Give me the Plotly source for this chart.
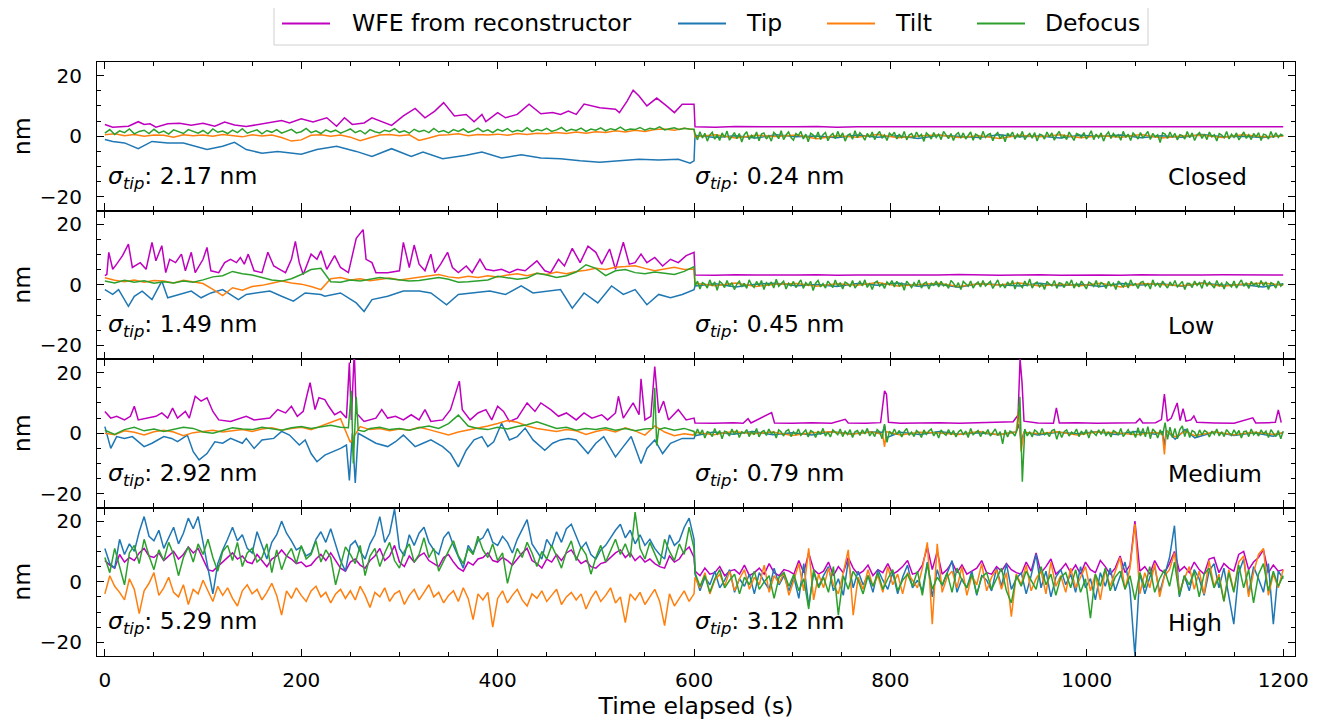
import numpy as np
import plotly.graph_objects as go
from plotly.subplots import make_subplots

# ---------------- labels / metadata ----------------
SERIES = ["WFE from reconstructor", "Tip", "Tilt", "Defocus"]
COLORS = ["#bf00bf", "#1f77b4", "#ff7f0e", "#2ca02c"]
PANELS = ["Closed", "Low", "Medium", "High"]
SIGMA_OPEN = [2.17, 1.49, 2.92, 5.29]
SIGMA_CLOSED = [0.24, 0.45, 0.79, 3.12]
X_TICKS = [0, 200, 400, 600, 800, 1000, 1200]
Y_TICKS = [-20, 0, 20]
Y_TICKTEXT = ["\u221220", "0", "20"]

# ---------------- Panel 1 : Closed ----------------
P1_WFE_OPEN = [(0, 3.9), (8, 3.0), (24, 3.3), (34, 4.8), (40, 3.9), (46, 4.1), (52, 3.0), (64, 4.1), (76, 4.3),
               (88, 3.6), (100, 4.3), (112, 3.3), (122, 4.7), (132, 3.7), (144, 3.2), (156, 3.9), (168, 4.4),
               (180, 5.2), (188, 4.4), (200, 5.8), (212, 4.7), (226, 6.1), (236, 3.3), (244, 6.1), (252, 3.9),
               (264, 4.4), (272, 6.1), (280, 5.0), (292, 3.6), (304, 6.7), (316, 9.2), (326, 6.1), (336, 8.3),
               (345, 11.1), (356, 6.7), (368, 7.2), (376, 4.8), (384, 7.2), (388, 4.8), (400, 7.8), (408, 6.1),
               (420, 7.2), (432, 10.6), (444, 7.4), (456, 7.8), (464, 7.2), (472, 8.3), (480, 7.2), (488, 10.6),
               (504, 9.4), (520, 8.9), (524, 7.8), (532, 11.7), (538, 15.2), (544, 13.3), (552, 10.0), (562, 12.6),
               (572, 10.0), (580, 7.8), (588, 10.6), (600, 10.6)]
P1_TIP_OPEN = [(0, -1.1), (8, -1.7), (20, -2.2), (34, -4.1), (48, -1.7), (64, -2.2), (80, -2.2), (88, -3.0),
               (104, -4.4), (120, -3.3), (132, -2.0), (144, -4.4), (160, -5.6), (176, -5.0), (200, -5.9),
               (216, -4.4), (236, -3.3), (256, -5.0), (272, -6.7), (292, -4.1), (312, -6.7), (324, -5.2),
               (344, -7.4), (368, -6.3), (384, -5.2), (404, -7.2), (424, -6.1), (444, -7.2), (464, -7.4),
               (484, -8.1), (504, -8.6), (524, -8.1), (544, -7.6), (564, -7.8), (584, -7.6), (596, -8.9), (600, -8.1)]
P1_TILT_OPEN = [0.5, 0.8, 0.2, 0.6, 0.0, 0.4, 0.3, -0.3, 0.5, 0.2,
                0.4, 0.0, 0.6, 0.3, -0.2, 0.5, 0.1, 0.4, -0.4, -1.6,
                -1.2, 0.3, 0.5, 0.0, 0.4, -0.3, -1.5, -0.5, 0.4, 0.6,
                0.2, 0.5, -1.4, -0.6, 0.3, 0.5, 0.8, 0.2, 0.6, 0.4,
                0.7, 0.3, 0.9, 0.6, 1.0, 0.8, 1.2, 0.9, 1.4, 1.0,
                1.5, 1.2, 1.8, 1.4, 2.0, 1.6, 2.2, 2.4, 2.0, 2.6, 2.2]
P1_DEF_OPEN = [1.0, 2.2, 0.6, 1.8, 1.2, 2.4, 0.8, 1.6, 2.0, 0.9,
               2.3, 1.1, 1.7, 0.7, 2.1, 1.4, 0.9, 2.2, 1.5, 1.0,
               1.9, 0.8, 2.4, 1.3, 1.7, 0.9, 2.0, 1.2, 2.5, 1.0,
               1.6, 2.1, 0.8, 1.9, 1.3, 2.2, 1.0, 1.7, 2.3, 1.1,
               1.5, 2.6, 1.2, 1.8, 0.9, 2.1, 1.4, 2.0, 1.0, 1.7,
               2.4, 1.2, 1.9, 0.8, 2.2, 1.5, 1.1, 2.0, 1.6, 2.5,
               1.3, 1.8, 1.0, 2.3, 1.5, 2.0, 1.2, 2.6, 1.4, 1.9,
               1.1, 2.2, 1.6, 2.4, 1.3, 1.8, 2.7, 1.5, 2.1, 1.2,
               2.3, 1.7, 2.5, 1.4, 2.0, 1.6, 2.8, 1.5, 2.2, 1.8,
               2.6, 1.6, 2.1, 2.9, 1.7, 2.3, 1.9, 2.7, 1.6, 2.4,
               2.0, 2.8, 1.8, 2.5, 2.1, 3.0, 1.9, 2.4, 2.2, 2.9,
               2.0, 2.6, 2.3, 3.1, 2.1, 2.5, 2.8, 2.2, 2.6, 2.4, 2.3]
P1_WFE_CL = [3.1, 3.0, 3.2, 3.1, 3.0, 3.1, 3.2, 3.0, 3.1, 3.1, 3.0, 3.2, 3.1, 3.0, 3.1,
             3.1, 3.2, 3.0, 3.1, 3.0, 3.1, 3.2, 3.1, 3.0, 3.1, 3.1, 3.0, 3.2, 3.1, 3.1]
P1_TIP_CL = [0.3, -0.4, 0.2, -0.6, 0.5, -0.2, 0.1, -0.5, 0.4, -0.3, 0.2, -0.7, 0.3, 0.0, -0.4,
             0.5, -0.2, 0.1, -0.6, 0.3, -0.1, 0.4, -0.5, 0.2, -0.3, 0.6, -0.2, 0.0, -0.4, 0.2]
P1_TILT_CL = [-0.2, 0.5, -0.6, 0.3, -0.1, 0.4, -0.8, 0.2, -0.3, 0.6, -0.5, 0.1, 0.4, -0.4, 0.2,
              -0.7, 0.3, -0.2, 0.5, -0.5, 0.2, -0.3, 0.6, -0.6, 0.1, 0.3, -0.4, 0.5, -0.2, 0.1]
P1_DEF_CL = [0.8, -1.2, 1.5, -0.6, 1.0, -1.6, 0.4, 1.3, -1.0, 0.6, -1.4, 1.1,
             -0.4, 1.7, -1.3, 0.2, 1.2, -0.8, 0.9, -1.9, 0.5, 1.5, -1.1, 0.3,
             -0.6, 1.4, -1.5, 0.7, 1.1, -0.9, 0.2, -1.6, 1.3, 0.5, -0.8, 1.8,
             -1.1, 0.4, 1.4, -0.4, -1.3, 0.9, 0.2, 1.6, -0.9, 0.7, -1.8, 1.0,
             0.4, -0.6, 1.4, -1.1, 0.5, 1.2, -1.5, 0.2, 0.9, -0.8, 1.6, -0.4,
             1.1, -1.6, 0.3, 0.8, -1.0, 1.8, -0.5, 1.2, 0.2, -1.3, 0.9, -0.4,
             1.4, -1.1, 0.6, 1.6, -0.7, 0.4, -1.4, 1.0, 0.2, 1.3, -0.9, 0.7,
             -0.6, 1.6, -1.2, 0.4, 0.9, -0.7, 1.4, -0.2, 0.6, -1.7, 1.1, 0.3,
             -0.9, 1.2, -0.4, 0.7, -1.1, 1.6, 0.2, -0.8, 0.9, -1.4, 0.5, 1.2,
             -0.6, 1.1, -0.9, 0.3, 1.4, -1.3, 0.7, 0.2, -1.1, 1.6, -0.4, 0.5,
             0.9, -1.5, 0.4, 1.2, -0.8, 0.5, -1.8, 1.0, 0.0, 1.4, -0.9, 0.7,
             -0.4, 1.6, -1.1, 0.2, 0.9, -0.6, 1.2, -1.6, 0.7, 0.4, -0.9, 1.4,
             -0.2, 1.1, -1.3, 0.5, 1.6, -0.7, 0.3, -1.1, 1.4, 0.0, -1.4, 0.9,
             0.5, -0.4, 1.2, -0.9, 0.2, 1.8, -1.1, 0.7, -0.5, 1.1, -1.6, 0.4,
             1.4, -0.7, 0.9, -0.2, 0.5, -1.3, 1.6, -0.4, 0.7, -1.4, 1.1, 0.2,
             -0.9, 1.2, -0.5, 0.4, 1.6, -1.1, 0.9, -0.2, 0.5, -2.1, 1.1, 0.7,
             -0.7, 1.4, -0.4, 0.9, -1.2, 0.5, 0.2, -0.9, 1.6, -0.5, 1.1, -1.4,
             0.4, 1.2, -0.7, 0.7, -1.1, 1.4, -0.2, 0.5, -1.6, 0.9, 0.4, -0.5,
             1.6, -0.9, 0.7, -0.4, 1.1, -1.2, 0.2, 1.4, -0.7, 0.5, -1.1, 0.9,
             -0.2, 1.2, -1.4, 0.7, 0.4, -0.9, 1.6, -0.5, 1.1, -0.4, 0.7, 0.2]

# ---------------- Panel 2 : Low ----------------
P2_WFE_OPEN = [(0, 3.0), (2, 3.4), (4, 10.7), (8, 5.1), (12, 6.8), (18, 9.6), (24, 13.4), (28, 5.7), (36, 7.3),
               (42, 5.1), (48, 14.0), (52, 7.9), (58, 12.9), (62, 4.0), (66, 8.4), (72, 7.3), (78, 10.1),
               (82, 4.6), (88, 10.7), (92, 4.0), (100, 8.4), (104, 12.3), (108, 4.6), (116, 4.0), (122, 7.3),
               (128, 8.4), (134, 7.3), (138, 9.0), (142, 6.8), (146, 10.1), (152, 4.6), (160, 4.0), (166, 10.7),
               (172, 6.2), (178, 5.1), (184, 4.0), (190, 8.4), (194, 14.3), (198, 7.3), (202, 3.4), (210, 10.1),
               (216, 8.4), (220, 11.2), (226, 5.1), (234, 9.6), (240, 5.7), (248, 4.0), (256, 15.3), (263, 18.2),
               (266, 8.4), (272, 7.3), (276, 4.0), (288, 4.0), (300, 4.6), (304, 14.0), (310, 5.7), (315, 13.1),
               (320, 6.8), (326, 4.6), (332, 10.1), (336, 4.0), (342, 6.8), (349, 10.7), (354, 5.7), (360, 4.0),
               (368, 6.2), (374, 4.0), (382, 8.4), (388, 5.1), (396, 4.6), (404, 5.1), (412, 4.0), (420, 5.1),
               (428, 4.6), (440, 7.9), (448, 4.6), (454, 4.0), (462, 8.4), (468, 6.2), (476, 12.0), (484, 7.3),
               (492, 12.7), (500, 10.7), (506, 6.8), (514, 11.8), (520, 5.1), (528, 14.0), (534, 6.8), (540, 7.3),
               (546, 10.1), (552, 7.3), (560, 9.0), (568, 6.2), (576, 8.4), (584, 7.3), (592, 9.6), (600, 10.7)]
P2_TIP_OPEN = [(0, -1.6), (8, -3.2), (14, -1.6), (24, -7.1), (30, -3.8), (38, -2.1), (48, -4.9), (58, 1.2),
               (64, -4.3), (76, -3.2), (88, -2.1), (98, -4.3), (108, -2.7), (120, -1.6), (136, -4.9), (144, -3.2),
               (156, -2.7), (168, -2.1), (180, -3.8), (192, -5.4), (204, -2.7), (220, -3.2), (224, -3.8),
               (240, -2.7), (256, -6.0), (264, -8.8), (272, -4.9), (288, -3.8), (304, -2.1), (320, -2.1),
               (332, -2.7), (348, -6.6), (360, -3.2), (376, -2.7), (392, -2.1), (408, -3.2), (424, -0.4),
               (436, -2.7), (452, -2.1), (464, -1.6), (476, -7.7), (488, -2.7), (502, -6.0), (516, -0.4),
               (528, -3.2), (540, -1.6), (552, -6.6), (564, -3.2), (576, -4.3), (588, -3.2), (600, -1.6)]
P2_TILT_OPEN = [2.3, 1.5, 1.0, 1.6, 0.8, 1.4, 1.2, 0.6, 1.5, 1.0,
                0.4, -1.5, -3.6, -1.0, -1.8, -0.6, -0.2, 0.5, 1.2, 0.6,
                0.2, -0.6, -1.6, 2.0, 2.4, 1.6, 2.0, 1.3, 1.8, 2.2,
                1.6, 2.0, 2.6, 3.0, 3.4, 2.6, 2.2, 2.8, 2.4, 3.0,
                2.6, 3.2, 3.6, 3.0, 3.8, 3.4, 4.2, 3.6, 4.4, 4.8,
                5.4, 5.0, 5.8, 6.0, 6.3, 5.4, 4.6, 5.2, 5.8, 5.0, 5.2]
P2_DEF_OPEN = [1.2, 0.6, 1.5, 0.8, 1.3, 0.5, 1.0, 0.6, 1.2, 0.8,
               1.6, 2.6, 3.0, 4.4, 3.6, 3.2, 2.4, 1.6, 1.2, 2.0,
               3.4, 5.0, 5.4, 1.0, 0.8, 1.6, 1.2, 1.8, 2.4, 2.0,
               1.6, 1.2, 1.4, 2.0, 2.4, 1.8, 0.8, 1.0, 1.4, 1.6,
               2.8, 2.4, 1.8, 2.2, 3.8, 3.2, 2.4, 3.0, 4.2, 6.6,
               5.4, 3.0, 4.6, 5.0, 4.0, 3.6, 4.2, 3.8, 3.4, 4.4, 6.0]
P2_WFE_CL = [3.2, 3.1, 3.3, 3.2, 3.1, 3.2, 3.3, 3.1, 3.2, 3.2, 3.1, 3.3, 3.2, 3.4, 3.2,
             3.1, 3.2, 3.3, 3.1, 3.2, 3.2, 3.1, 3.3, 3.2, 3.1, 3.2, 3.3, 3.2, 3.1, 3.2]
P2_TIP_CL = [-0.4, 0.3, -0.7, 0.2, 0.5, -0.3, 0.1, -0.6, 0.4, -0.2, 0.6, -0.5, 0.2, -0.8, 0.3,
             0.0, -0.4, 0.5, -0.3, 0.2, -0.6, 0.4, -0.1, 0.3, -0.5, 0.6, -0.2, 0.1, -0.7, 0.3]
P2_TILT_CL = [0.5, -0.3, 0.6, -0.6, 0.2, 0.4, -0.5, 0.3, -0.2, 0.7, -0.4, 0.1, 0.5, -0.6, 0.3,
              -0.1, 0.6, -0.4, 0.2, -0.3, 0.5, -0.7, 0.4, 0.1, -0.3, 0.5, -0.5, 0.2, 0.6, -0.2]
P2_DEF_CL = [-0.5, 1.2, -1.4, 0.7, 0.2, -1.1, 1.6, -0.4, 0.9, -1.8, 1.1, 0.4,
             -0.9, 1.4, -0.5, 0.7, -1.6, 0.2, 1.2, -0.7, 0.5, -1.2, 1.6, 0.0,
             -0.9, 1.1, -0.4, 1.4, -1.6, 0.7, -0.2, 0.9, -1.1, 1.8, -0.5, 0.4,
             1.2, -1.4, 0.5, -0.4, 1.1, -0.9, 0.2, 1.6, -1.2, 0.7, -0.2, 1.1,
             -1.9, 0.5, 1.4, -0.7, 0.4, -1.1, 1.2, 0.0, -0.9, 1.6, -0.5, 0.7,
             -1.4, 0.9, 0.4, -0.7, 1.4, -1.1, 0.2, 1.1, -0.4, 1.6, -0.9, 0.5,
             -1.6, 0.7, 1.2, -0.5, 0.4, -1.2, 0.9, 0.0, 1.4, -0.7, 1.1, -0.4,
             0.5, -1.8, 1.2, 0.2, -0.9, 0.7, -0.5, 1.6, -1.1, 0.4, 0.9, -1.4,
             0.5, -0.2, 1.2, -0.7, 1.1, -0.4, 0.2, -1.2, 1.4, 0.5, -0.9, 0.7,
             -1.6, 1.1, 0.4, -0.5, 1.2, -1.1, 0.2, 0.9, -0.7, 1.4, -0.4, 0.5,
             1.1, -1.2, 0.4, 1.6, -0.7, 0.2, -1.1, 0.9, -0.4, 1.4, -1.4, 0.7,
             0.0, -0.9, 1.2, -0.5, 1.9, -1.1, 0.4, 0.9, -0.7, 0.5, -1.6, 1.1,
             0.2, -0.4, 1.4, -1.2, 0.7, 0.4, -0.9, 1.1, -0.2, 1.6, -1.1, 0.5,
             -0.7, 1.2, 0.0, -1.4, 0.9, 0.4, -0.5, 1.4, -0.9, 0.7, 0.2, -1.2,
             1.1, -0.4, 0.5, -1.6, 1.2, 0.2, -0.7, 0.9, -1.1, 1.6, -0.2, 0.4,
             -1.2, 0.7, 1.1, -0.5, 0.4, -1.4, 1.6, -0.4, 0.5, -0.9, 1.2, 0.0,
             -1.1, 0.9, -0.4, 1.4, -0.7, 0.2, 1.1, -1.6, 0.5, 0.4, -0.9, 1.2,
             -0.2, 0.7, -1.2, 1.6, -0.5, 0.9, 0.0, -1.1, 1.4, -0.4, 0.5, -1.4,
             0.9, 0.2, -0.7, 1.2, -1.1, 0.4, 1.6, -0.5, 0.7, -1.2, 1.1, -0.2,
             0.5, -0.9, 1.4, -0.4, 0.9, -1.6, 0.7, 0.2, -1.1, 1.2, -0.5, 0.4]

# ---------------- Panel 3 : Medium ----------------
P3_WFE_OPEN = [(0, 7.2), (6, 5.0), (12, 5.6), (20, 4.4), (26, 5.6), (30, 8.9), (34, 4.4), (44, 5.0), (52, 5.6),
               (58, 6.7), (64, 5.0), (69, 8.3), (74, 5.0), (82, 7.2), (86, 5.0), (92, 12.2), (98, 10.6),
               (104, 11.7), (110, 7.2), (116, 4.4), (128, 3.9), (144, 5.6), (152, 4.4), (168, 5.0), (176, 7.8),
               (184, 6.7), (190, 8.9), (196, 5.6), (202, 7.2), (206, 12.8), (209, 16.7), (214, 7.8), (218, 11.7),
               (224, 11.1), (228, 8.9), (234, 6.1), (240, 7.2), (246, 5.0), (249, 23.3), (251, 4.4), (254, 27.0),
               (256, 6.7), (264, 3.9), (276, 5.0), (282, 7.8), (288, 5.0), (296, 5.6), (304, 4.4), (312, 6.1),
               (320, 4.4), (326, 7.8), (332, 3.9), (344, 4.4), (352, 7.8), (357, 13.3), (361, 17.2), (364, 7.8),
               (372, 4.4), (380, 6.7), (388, 7.8), (394, 4.4), (400, 8.9), (406, 7.2), (412, 3.9), (420, 5.0),
               (430, 10.0), (438, 7.2), (444, 10.0), (454, 7.8), (462, 5.6), (470, 6.7), (480, 4.4), (488, 6.7),
               (496, 5.0), (506, 6.1), (512, 4.4), (520, 6.7), (523, 12.2), (528, 5.0), (538, 10.0), (544, 6.1),
               (546, 18.0), (550, 4.4), (556, 5.6), (560, 22.0), (564, 6.7), (569, 10.6), (574, 4.4), (584, 7.8),
               (592, 4.4), (600, 5.0)]
P3_TIP_OPEN = [(0, 2.2), (6, -5.0), (12, -1.1), (20, -1.7), (28, -1.1), (40, -4.4), (48, -3.3), (60, -1.1),
               (68, -1.7), (74, -2.8), (84, -0.6), (90, -6.1), (96, -8.8), (104, -6.7), (112, -2.8), (120, -3.3),
               (128, -1.7), (140, -3.3), (144, -1.7), (152, -5.0), (160, -2.2), (172, -1.7), (180, 0.6),
               (188, -0.6), (198, -3.9), (204, -2.2), (210, -6.7), (216, -9.4), (224, -7.2), (232, -6.1),
               (240, -5.0), (246, -3.9), (249, -15.6), (252, 0.0), (255, -16.4), (258, 0.0), (264, -1.1),
               (276, -3.3), (288, -4.4), (296, -2.8), (304, -0.6), (316, -4.4), (324, -3.3), (332, -2.2),
               (344, -4.4), (352, -6.7), (360, -11.1), (368, -5.6), (376, -2.2), (384, -1.1), (390, -4.4),
               (396, -2.8), (404, 3.3), (412, -2.2), (420, -1.1), (428, 1.7), (436, -2.2), (448, -5.6),
               (456, -3.3), (464, -2.2), (472, -1.7), (480, -2.2), (492, -6.7), (500, -3.3), (508, -1.1),
               (520, -7.8), (528, -4.4), (536, -1.1), (546, -10.0), (552, -5.0), (560, -2.2), (568, -6.7),
               (576, -3.3), (588, -1.7), (600, -1.7)]
P3_TILT_OPEN = [0.0, -0.5, 0.8, 0.3, -0.6, 0.5, 1.0, 0.4, -0.8, 0.2,
                0.6, 1.0, 0.4, 0.8, 1.2, 0.6, 1.4, 1.8, 1.0, 1.6,
                2.0, 1.2, 2.4, 3.6, 4.8, -3.0, 2.2, 1.2, 1.6, 0.8,
                1.4, 1.0, 2.0, 1.2, 0.2, -0.6, 0.4, 1.0, 1.6, 2.4,
                3.2, 4.2, 3.6, 2.4, 1.6, 1.0, 0.6, 1.2, 0.8, -0.4,
                0.6, 1.2, 0.4, 1.8, 0.8, -0.6, 2.4, 0.4, -0.8, -0.2, -0.6]
P3_DEF_OPEN = [(0, 1.0), (10, -0.4), (20, 1.2), (30, 2.0), (40, 0.8), (50, 1.4), (60, 0.6), (70, 1.2), (80, 2.0),
               (90, 1.6), (100, 0.4), (110, 0.0), (120, 1.0), (130, 1.8), (140, 1.4), (150, 1.2), (160, 2.0),
               (170, 1.6), (180, 1.0), (190, 1.8), (200, 2.2), (210, 1.6), (220, 2.0), (230, 2.6), (240, 2.0),
               (248, 1.8), (251, 14.0), (253, -10.0), (256, 12.0), (258, 1.0), (264, 0.6), (270, 1.6), (280, 2.0),
               (290, 1.2), (300, 1.6), (310, 1.0), (320, 1.8), (330, 2.4), (340, 1.6), (350, 3.2), (360, 6.0),
               (370, 2.4), (380, 1.6), (390, 1.2), (400, 2.0), (410, 1.4), (420, 2.2), (430, 2.8), (440, 3.8),
               (450, 2.6), (460, 1.6), (470, 2.0), (480, 1.0), (490, 1.6), (500, 1.2), (510, 1.8), (520, 1.0),
               (530, 1.6), (540, 0.8), (550, 1.4), (558, 1.6), (560, 15.0), (562, -4.0), (564, 1.2), (570, 1.8),
               (580, 1.0), (590, 1.6), (600, 0.6)]
P3_WFE_CL = [(601, 3.4), (620, 3.3), (640, 3.5), (650, 3.3), (655, 4.8), (658, 3.4), (679, 6.8), (682, 3.4),
             (700, 3.3), (720, 3.5), (740, 3.3), (754, 4.6), (757, 3.4), (775, 3.3), (790, 3.5), (794, 14.0),
             (796, 12.9), (798, 3.6), (810, 3.3), (830, 3.4), (850, 3.5), (870, 3.3), (890, 3.4), (910, 3.5),
             (925, 3.8), (930, 6.0), (932, 24.6), (934, 16.8), (936, 4.0), (950, 3.4), (966, 3.3), (969, 8.4),
             (972, 3.4), (990, 3.5), (1010, 3.3), (1030, 3.4), (1050, 3.5), (1054, 4.8), (1057, 3.4), (1070, 3.5),
             (1076, 4.5), (1079, 12.9), (1082, 4.0), (1086, 5.0), (1092, 10.0), (1095, 4.2), (1098, 8.1),
             (1101, 4.0), (1106, 4.4), (1109, 5.7), (1112, 3.6), (1130, 3.4), (1150, 3.3), (1169, 5.1),
             (1172, 3.4), (1185, 3.5), (1192, 3.6), (1195, 7.7), (1198, 3.5)]
P3_TIP_CL = [(601, -0.8), (620, 0.4), (640, -0.3), (660, 0.6), (680, -0.5), (700, 0.2), (720, -0.6), (740, 0.5),
             (760, -0.2), (780, 0.4), (792, 0.3), (794, 2.5), (796, -1.5), (810, 0.3), (830, -0.4), (850, 0.6),
             (870, -0.3), (890, 0.2), (910, -0.5), (928, 0.4), (931, 3.0), (933, -3.0), (936, 0.4), (950, -0.6),
             (970, 0.3), (990, -0.2), (1010, 0.5), (1030, -0.4), (1050, 0.6), (1070, -0.3), (1077, 0.5),
             (1079, -4.0), (1081, 1.0), (1090, -2.0), (1100, 1.2), (1110, -1.5), (1130, 0.4), (1150, -0.7),
             (1170, 0.2), (1190, -1.0), (1200, 0.3)]
P3_TILT_CL = [(601, 0.3), (620, -0.5), (640, 0.6), (660, -0.2), (680, 0.4), (700, -0.7), (720, 0.2), (740, 0.5),
              (760, -0.3), (780, 0.4), (792, -0.3), (794, -4.5), (796, 0.5), (810, -0.6), (830, 0.3), (850, 0.1),
              (870, -0.4), (890, 0.6), (910, -0.5), (928, 0.4), (931, 9.0), (933, -6.0), (936, 0.3), (950, -0.2),
              (970, 0.5), (990, -0.6), (1010, 0.4), (1030, 0.2), (1050, -0.5), (1070, 0.3), (1077, -0.4),
              (1079, -7.0), (1081, 0.8), (1090, -1.2), (1100, 0.6), (1110, -0.8), (1130, 0.4), (1150, -0.5),
              (1170, 0.3), (1190, -0.4), (1200, 0.2)]
P3_DEF_CL = [-0.9, 1.4, -0.4, 1.1, -1.6, 0.5, 0.2, -1.1, 1.6, -0.5, 0.9, -1.8,
             0.7, 0.4, -0.9, 1.4, -0.4, 1.1, -1.4, 0.5, 0.0, 1.2, -1.1, 0.7,
             -0.5, 1.6, -1.2, 0.4, 0.9, -0.7, 1.4, -0.2, 0.5, -1.6, 1.1, 0.4,
             -0.9, 0.7, 1.2, -1.1, 0.5, -0.4, 1.4, -0.7, 0.2, 1.1, -1.2, 0.9,
             0.4, -1.4, 0.7, -0.4, 1.6, -0.9, 0.4, -1.2, 1.1, 0.2, -0.5, 1.4,
             -1.1, 0.7, -0.4, 1.2, -1.4, 0.5, 0.9, -0.7, 1.1, -0.2, 1.6, -0.9,
             0.5, -1.1, 1.2, 0.4, -1.8, 3.0, -3.0, 0.7, -0.5, 1.4, -0.4, 0.9,
             -1.2, 0.5, 1.6, -0.7, 0.4, -1.1, 0.9, 0.2, -1.4, 1.1, -0.4, 0.7,
             1.4, -0.9, 0.5, -1.6, 1.1, 0.0, -0.7, 1.2, -0.5, 0.9, -1.2, 0.4,
             1.1, -0.4, 0.7, -1.4, 1.6, -0.5, 0.2, 0.9, -1.1, 0.5, -0.2, 1.2,
             -0.9, 0.4, 1.4, -0.7, 0.5, -3.5, 1.1, -1.2, 0.7, 0.2, -0.9, 1.6,
             12.0, -16.0, 1.4, -0.9, 0.5, -1.2, 1.1, 0.4, -0.7, 1.6, -0.5, 0.2,
             -1.1, 0.9, 1.2, -2.0, 0.7, -1.4, 0.5, 1.1, -0.9, 0.4, -0.2, 1.4,
             -1.1, 0.7, -0.5, 1.2, -1.6, 0.9, 0.2, -0.7, 1.1, -0.4, 1.4, -0.9,
             0.5, -1.2, 0.9, 0.4, -0.7, 1.6, -1.1, 0.2, 1.2, -0.5, 0.7, -1.4,
             1.8, -0.9, 1.6, -1.2, 2.2, -1.8, 1.4, 0.5, -1.6, 1.1, -0.7, 3.5,
             -2.0, 2.0, -1.4, 1.6, -1.8, 1.2, 2.4, -1.1, 1.6, -1.4, 0.9, 0.4,
             -1.2, 1.1, -0.5, 0.9, 0.4, -1.2, 0.7, -0.4, 1.4, -0.9, 0.5, -1.1,
             1.2, 0.2, -0.7, 1.1, -0.4, 0.9, -1.6, 0.5, 0.7, -1.1, 1.4, -0.5,
             0.4, -0.9, 1.1, -0.2, 0.7, -1.4, 1.2, 0.0, -1.1, 0.9, -1.8, 0.7]

# ---------------- Panel 4 : High ----------------
P4_WFE_OPEN = [7.0, 5.5, 4.5, 9.0, 6.5, 8.0, 7.0, 9.5, 11.0, 8.5,
               8.0, 9.5, 7.0, 8.5, 10.0, 7.5, 9.0, 11.5, 9.5, 11.0,
               7.5, 4.0, 3.5, 5.0, 6.5, 8.0, 9.5, 7.5, 8.5, 6.5,
               6.0, 9.0, 7.0, 5.0, 7.5, 8.5, 10.5, 8.5, 7.5, 6.0,
               6.5, 5.0, 5.5, 7.5, 9.0, 7.0, 9.5, 7.0, 4.5, 3.5,
               6.5, 7.5, 5.5, 4.5, 7.0, 8.5, 11.0, 7.0, 8.5, 12.0,
               6.5, 5.0, 8.5, 6.5, 8.5, 9.5, 7.0, 6.0, 5.0, 8.0,
               9.0, 6.5, 4.5, 3.5, 6.5, 5.5, 7.5, 8.0, 9.5, 7.0,
               6.5, 8.0, 7.0, 5.5, 7.5, 9.5, 11.0, 7.0, 6.0, 4.5,
               7.5, 6.5, 9.0, 7.0, 9.5, 10.5, 8.0, 6.0, 7.0, 5.0,
               4.5, 6.0, 6.5, 8.0, 9.5, 10.5, 8.0, 9.5, 7.0, 8.5,
               6.5, 7.5, 6.0, 5.0, 4.5, 8.5, 6.5, 7.5, 10.0, 11.5, 8.0]
P4_TIP_OPEN = [11.0, 6.0, 4.5, 14.0, 9.0, 12.5, 10.0, 16.5, 21.5, 15.0,
               13.5, 17.0, 11.0, 14.5, 18.0, 12.5, 16.0, 21.0, 17.5, 21.5,
               13.0, 4.0, -4.0, 6.0, 10.5, 14.0, 18.0, 13.5, 15.5, 11.0,
               9.5, 16.5, 12.0, 7.5, 13.0, 15.5, 20.0, 16.0, 13.5, 10.5,
               11.5, 8.5, 9.5, 14.0, 16.5, 13.0, 17.5, 12.0, 7.0, 3.5,
               12.0, 13.5, 10.0, 7.5, 12.5, 15.5, 21.5, 13.0, 16.0, 24.0,
               11.0, 8.5, 15.5, 12.0, 16.0, 18.0, 13.0, 10.5, 9.0, 14.5,
               16.5, 12.0, 8.0, 4.5, 12.0, 9.5, 13.5, 14.5, 17.5, 13.0,
               12.0, 15.0, 13.0, 9.5, 14.0, 17.5, 20.5, 12.5, 10.0, 7.5,
               14.0, 11.5, 16.5, 13.0, 17.5, 19.0, 15.0, 11.0, 13.0, 9.0,
               7.5, 10.5, 12.0, 14.5, 17.0, 19.0, 14.5, 17.0, 12.5, 15.5,
               12.0, 14.0, 11.0, 9.0, 7.5, 15.5, 12.0, 13.5, 18.0, 21.0, 14.0]
P4_TILT_OPEN = [-4.0, 2.0, -1.5, -3.5, -6.0, 1.0, -2.5, -10.5, -3.0, -0.5,
                3.0, -4.5, -2.0, 1.5, -3.5, -5.0, -1.0, -7.5, -2.5, -4.0,
                0.5, -3.0, -6.5, -1.5, -4.5, -2.0, -5.5, -8.0, -3.0, -1.0,
                -4.0, -2.5, -6.0, -3.5, -0.5, -4.5, -11.0, -3.0, -5.5, -2.0,
                -4.5, -6.5, -3.0, -1.5, -5.0, -3.5, -7.0, -4.0, -2.5, -5.5,
                -3.0, -6.0, -1.5, -4.5, -8.5, -3.5, -5.0, -2.0, -6.5, -4.0,
                -3.0, -7.5, -4.5, -2.5, -6.0, -3.5, -1.0, -5.0, -3.5, -7.0,
                -4.5, -3.0, -6.5, -2.0, -5.5, -12.5, -4.0, -6.0, -3.5, -15.0,
                -5.5, -3.0, -7.0, -4.5, -2.5, -6.0, -8.0, -4.0, -5.5, -3.0,
                -6.5, -4.5, -2.5, -7.5, -5.0, -3.5, -6.0, -4.0, -9.0, -5.5,
                -3.0, -6.5, -4.5, -2.0, -7.0, -5.0, -13.5, -4.0, -6.0, -3.5,
                -7.5, -5.0, -2.5, -6.5, -14.5, -4.0, -8.0, -5.5, -3.0, -6.5, -4.0]
P4_DEF_OPEN = [8.0, 3.0, 11.0, 5.0, -1.0, 9.5, 12.0, 6.0, 14.0, 8.5,
               4.0, 10.5, 7.0, 13.0, 9.0, 2.0, 8.0, 11.5, 6.5, 12.5,
               9.0, 14.0, 8.0, 3.5, 10.0, 12.0, 7.0, 13.0, 5.0, 9.5,
               11.0, 6.5, 8.0, 12.5, 3.0, 10.5, 4.0, 8.5, 11.0, 6.0,
               12.0, 7.5, 9.0, 13.5, 6.5, 10.5, 8.0, -1.0, 5.5, 11.5,
               9.0, 6.0, 12.0, 2.0, 8.5, 11.0, 5.0, 9.5, 13.0, 7.0,
               4.5, 10.0, 12.5, 6.5, 9.0, 14.5, 8.0, 11.0, 3.5, 7.0,
               10.5, 13.5, 8.5, 6.0, 11.0, 9.0, 15.0, 10.5, 8.0, 12.5,
               7.0, 9.5, -0.5, 6.0, 11.0, 8.0, 13.0, 9.5, 5.0, 10.0,
               7.5, 12.0, 8.5, 4.5, 10.0, 13.5, 7.0, 11.5, 9.0, 2.5,
               8.0, 12.0, 6.5, 10.5, 14.0, 9.0, 12.5, 8.0, 23.0, 11.0,
               7.5, 13.0, 9.5, 5.5, 14.0, 10.0, 7.0, 12.5, 9.0, 18.0, 11.0]
P4_WFE_CL = [3.5, 2.0, 4.5, 2.5, 3.0, 5.0, 2.0, 3.5, 4.0, 2.5,
             5.5, 2.0, 3.0, 4.5, 2.5, 6.0, 3.0, 2.0, 4.0, 3.5,
             2.5, 7.0, 3.0, 9.5, 4.0, 2.5, 3.5, 6.5, 2.0, 5.0,
             3.0, 8.0, 4.5, 2.5, 3.5, 5.5, 2.0, 4.0, 3.0, 6.0,
             2.5, 3.5, 5.0, 7.0, 2.5, 3.0, 5.5, 11.5, 4.0, 10.0,
             2.5, 4.0, 6.5, 3.0, 5.5, 2.5, 3.5, 4.5, 7.0, 3.0,
             2.5, 5.0, 3.5, 6.0, 4.0, 3.0, 2.5, 6.5, 3.5, 9.5,
             3.0, 5.0, 7.5, 2.5, 4.0, 6.0, 3.0, 5.5, 2.5, 6.5,
             4.0, 3.0, 7.0, 5.0, 2.5, 4.5, 8.5, 3.0, 5.5, 20.0,
             3.5, 5.0, 2.5, 7.0, 4.0, 3.0, 6.0, 10.0, 3.5, 5.0,
             3.0, 6.5, 4.0, 2.5, 7.5, 8.0, 3.0, 6.0, 4.5, 3.5,
             9.0, 10.0, 4.0, 6.5, 8.0, 10.5, 3.0, 5.5, 3.5, 4.0]
P4_TIP_CL = [2.5, -3.0, 1.5, -1.0, 3.5, -2.0, 0.5, 4.0, -3.5, 1.0,
             -1.5, 2.5, -4.0, 3.0, 0.0, -2.5, 4.5, -1.0, 2.0, -3.0,
             1.5, -5.5, 6.0, -8.0, 3.0, -1.5, 2.0, 5.0, -3.0, 1.0,
             -4.5, 7.0, -2.0, 3.5, -1.0, 2.0, -3.5, 4.0, 0.5, -2.5,
             3.0, -4.0, 1.5, 5.5, -2.0, 0.5, -3.0, 6.5, -5.0, 4.0,
             -1.5, 2.5, 7.0, -3.5, 1.0, -2.0, 3.5, -4.5, 2.0, 0.5,
             -3.0, 4.5, -1.5, 6.0, -2.5, 1.0, 3.0, -4.0, 2.0, 9.0,
             -2.0, 3.5, -5.0, 1.5, 4.0, -1.0, 2.5, -3.5, 5.0, -2.0,
             1.0, -6.0, 3.0, -1.5, 4.5, -3.0, 2.0, 6.5, -2.5, -24.5,
             3.0, -4.0, 1.5, 5.0, -3.5, 2.5, 8.0, 18.5, -5.0, 2.0,
             -3.0, 4.0, 1.0, -4.5, 3.5, 6.0, -2.0, 4.5, -5.5, -14.0,
             3.0, 7.5, -4.0, 5.0, 1.0, -3.5, 6.0, -14.0, 3.5, 1.0]
P4_TILT_CL = [1.5, -2.0, 3.0, -4.0, 0.5, 2.5, -1.5, 3.5, -3.0, 1.0,
              4.0, -2.5, 1.5, -1.0, 5.5, -3.5, 2.0, -0.5, 3.0, -4.5,
              0.5, 6.0, -3.0, 11.0, -6.0, 2.5, -2.0, 4.5, -1.0, -4.0,
              3.0, 10.5, -11.0, 1.5, -2.5, 4.0, -1.5, 2.0, -3.5, 5.0,
              -1.0, 2.5, -4.0, 3.0, 0.5, -2.0, 4.5, 13.0, -14.0, 12.5,
              -3.5, 1.5, 3.5, -2.0, 5.0, -4.5, 2.0, -1.0, 6.0, -3.0,
              1.5, 4.0, -2.5, 3.0, -11.5, 2.5, -1.0, 5.5, -3.0, 1.0,
              3.5, -4.0, 6.5, -1.5, 2.0, -3.5, 4.5, -2.0, 1.5, 5.0,
              -3.0, 2.5, -6.0, 4.0, -1.5, 3.0, 8.0, -2.5, 4.5, 19.0,
              -4.0, 3.0, -2.0, 6.0, -5.0, 2.0, 4.0, 9.5, -3.5, 1.0,
              5.0, -2.5, 3.5, -4.0, 7.0, -1.5, 2.5, -6.5, 4.0, -3.0,
              6.5, 8.5, -5.0, 3.0, 9.0, 11.0, -4.5, 2.5, -2.0, 4.0]
P4_DEF_CL = [3.0, -1.5, 2.0, -3.5, 1.0, 4.0, -2.0, 0.5, 2.5, -4.0,
             1.5, -1.0, 3.5, -2.5, 0.0, 2.0, -5.5, 1.5, 3.0, -1.5,
             2.5, -3.0, 1.0, -9.0, 4.0, -2.0, 1.5, -3.5, 5.0, -11.0,
             2.0, -2.5, 3.5, 0.5, -4.0, 2.0, -1.5, 3.0, -2.5, 1.0,
             4.0, -3.0, 0.5, 2.5, -1.5, 3.5, -4.5, 6.0, -2.5, 1.5,
             -1.0, 3.0, -3.5, 4.5, 0.5, -2.0, 2.5, -4.0, 1.5, 3.0,
             -2.5, 1.0, 4.5, -3.0, -7.0, 2.0, -1.5, 3.5, 0.5, -2.5,
             5.0, -1.0, 2.5, -4.5, 1.5, 3.0, -2.0, 4.0, -3.5, 1.0,
             -12.0, 2.5, -1.5, 4.5, -3.0, 1.5, 3.5, -2.5, 2.0, -6.0,
             3.0, -2.0, 5.0, -3.5, 1.0, 4.0, -1.5, 6.5, -4.5, 2.0,
             -1.0, 3.5, -5.0, 2.5, 4.5, -2.0, 1.5, -6.5, 3.0, -3.5,
             5.5, -2.0, 4.0, -7.0, 2.5, 6.0, -3.0, 3.5, -1.5, 2.0]


# ---------------- helpers ----------------
def even(vals, t0, t1):
    """values sampled evenly between t0 and t1"""
    return list(np.linspace(t0, t1, len(vals))), list(vals)


def pairs(p):
    return [a for a, _ in p], [b for _, b in p]


def series(open_part, closed_part):
    return open_part[0] + closed_part[0], open_part[1] + closed_part[1]


PANEL_DATA = [
    [series(pairs(P1_WFE_OPEN), even(P1_WFE_CL, 601, 1200)),
     series(pairs(P1_TIP_OPEN), even(P1_TIP_CL, 601, 1200)),
     series(even(P1_TILT_OPEN, 0, 600), even(P1_TILT_CL, 601, 1200)),
     series(even(P1_DEF_OPEN, 0, 600), even(P1_DEF_CL, 601, 1200))],
    [series(pairs(P2_WFE_OPEN), even(P2_WFE_CL, 601, 1200)),
     series(pairs(P2_TIP_OPEN), even(P2_TIP_CL, 601, 1200)),
     series(even(P2_TILT_OPEN, 0, 600), even(P2_TILT_CL, 601, 1200)),
     series(even(P2_DEF_OPEN, 0, 600), even(P2_DEF_CL, 601, 1200))],
    [series(pairs(P3_WFE_OPEN), pairs(P3_WFE_CL)),
     series(pairs(P3_TIP_OPEN), pairs(P3_TIP_CL)),
     series(even(P3_TILT_OPEN, 0, 600), pairs(P3_TILT_CL)),
     series(pairs(P3_DEF_OPEN), even(P3_DEF_CL, 601, 1200))],
    [series(even(P4_WFE_OPEN, 0, 600), even(P4_WFE_CL, 601, 1200)),
     series(even(P4_TIP_OPEN, 0, 600), even(P4_TIP_CL, 601, 1200)),
     series(even(P4_TILT_OPEN, 0, 600), even(P4_TILT_CL, 601, 1200)),
     series(even(P4_DEF_OPEN, 0, 600), even(P4_DEF_CL, 601, 1200))],
]

FONT = "DejaVu Sans"
TICK_SIZE = 20
LABEL_SIZE = 23.5
PAGE_OFFSET = 8                      # default body margin of the html page
W, H = 1330 - PAGE_OFFSET, 722 - PAGE_OFFSET
ML, MR, MT, MB = 97 - PAGE_OFFSET, 35, 62 - PAGE_OFFSET, 66
PW, PH = W - ML - MR, H - MT - MB


def px(x):
    """page pixel x -> paper coordinate"""
    return (x - PAGE_OFFSET - ML) / PW


def py(y):
    """page pixel y -> paper coordinate"""
    return (H - MB - (y - PAGE_OFFSET)) / PH


fig = make_subplots(rows=4, cols=1, shared_xaxes=True, vertical_spacing=0)

label_font = dict(family=FONT, size=LABEL_SIZE, color="black")
tick_font = dict(family=FONT, size=TICK_SIZE, color="black")

for r, pdata in enumerate(PANEL_DATA, start=1):
    for k, (t, v) in enumerate(pdata):
        fig.add_trace(go.Scatter(x=t, y=v, mode="lines", name=SERIES[k],
                                 line=dict(color=COLORS[k], width=1.5),
                                 showlegend=False, hoverinfo="skip"),
                      row=r, col=1)
    fig.update_yaxes(range=[-24.5, 24.5], tickvals=Y_TICKS, ticktext=Y_TICKTEXT,
                     ticks="inside", ticklen=7, tickwidth=1, tickcolor="black", ticklabelstandoff=10,
                     minor=dict(dtick=5, tick0=0, ticks="inside", ticklen=4, tickcolor="black"),
                     showline=True, linecolor="black", linewidth=1.2, mirror="allticks",
                     showgrid=False, zeroline=False, automargin=False,
                     tickfont=tick_font,
                     title=dict(text="nm", font=label_font, standoff=9),
                     row=r, col=1)
    fig.update_xaxes(range=[-8, 1212], tickvals=X_TICKS,
                     ticks="inside", ticklen=7, tickwidth=1, tickcolor="black", ticklabelstandoff=6,
                     minor=dict(dtick=50, tick0=0, ticks="inside", ticklen=4, tickcolor="black"),
                     showline=True, linecolor="black", linewidth=1.2, mirror="allticks",
                     showgrid=False, zeroline=False, automargin=False,
                     tickfont=tick_font,
                     row=r, col=1)
    xr = "x" if r == 1 else f"x{r}"
    yr = "y" if r == 1 else f"y{r}"
    sig = "<i>\u03c3</i><sub><i>tip</i></sub>: "
    for xpos, txt in [(1, f"{sig}{SIGMA_OPEN[r-1]:.2f} nm"),
                      (599, f"{sig}{SIGMA_CLOSED[r-1]:.2f} nm"),
                      (1081, PANELS[r-1])]:
        fig.add_annotation(x=xpos, y=-13.6, xref=xr, yref=yr, xanchor="left", yanchor="middle",
                           showarrow=False, text=txt, font=label_font)

fig.update_xaxes(title=dict(text="Time elapsed (s)", font=label_font, standoff=2), row=4, col=1)

# ---------------- custom legend (matplotlib-style box above the panels) ----------------
LEG_BOX = (274, 2, 1148, 45)           # page pixel box
LEG_Y = 23.5
LEG_ITEMS = [(282, 330, 350), (678, 726, 744), (827, 875, 893), (977, 1025, 1043)]  # line x0, x1, text x
shapes = [dict(type="rect", xref="paper", yref="paper",
               x0=px(LEG_BOX[0]), x1=px(LEG_BOX[2]), y0=py(LEG_BOX[3]), y1=py(LEG_BOX[1]),
               line=dict(color="#d0d0d0", width=1), fillcolor="white", layer="above")]
for k, (lx0, lx1, tx) in enumerate(LEG_ITEMS):
    shapes.append(dict(type="line", xref="paper", yref="paper",
                       x0=px(lx0), x1=px(lx1), y0=py(LEG_Y), y1=py(LEG_Y),
                       line=dict(color=COLORS[k], width=2.2), layer="above"))
    fig.add_annotation(x=px(tx), y=py(LEG_Y), xref="paper", yref="paper", xanchor="left", yanchor="middle",
                       showarrow=False, text=SERIES[k], font=label_font)

fig.update_layout(
    width=W, height=H,
    margin=dict(l=ML, r=MR, t=MT, b=MB, autoexpand=False),
    plot_bgcolor="white", paper_bgcolor="white",
    font=dict(family=FONT, size=TICK_SIZE, color="black"),
    showlegend=False,
    shapes=shapes,
)

fig.write_html("out.html")
